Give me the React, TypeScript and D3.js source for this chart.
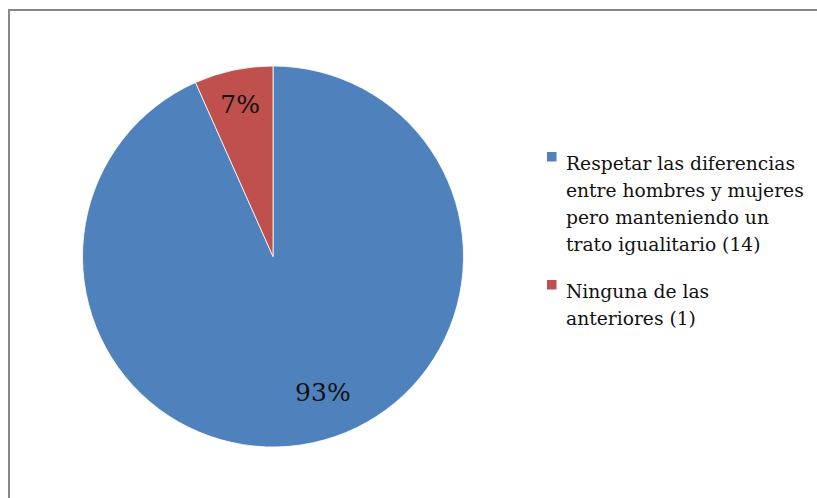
import React, { useEffect, useRef } from "react";
import * as d3 from "d3";

const categories = [
  ["Respetar las diferencias", "entre hombres y mujeres", "pero manteniendo un", "trato igualitario (14)"],
  ["Ninguna de las", "anteriores (1)"],
];
const counts = [14, 1];
const percentLabels = ["93%", "7%"];
const colors = ["#4F81BD", "#C0504D"];

const W = 817;
const H = 498;
const cx = 273;
const cy = 256.5;
const radius = 190.5;
const font = "'DejaVu Serif', serif";

const App = () => {
  const ref = useRef<SVGSVGElement>(null);

  useEffect(() => {
    const svg = d3.select(ref.current);
    svg.selectAll("*").remove();

    // chart frame, right and bottom edges fall outside the picture
    svg
      .append("rect")
      .attr("x", 9)
      .attr("y", 10)
      .attr("width", W + 20)
      .attr("height", H + 20)
      .attr("fill", "white")
      .attr("stroke", "#878787")
      .attr("stroke-width", 2);

    const pie = d3
      .pie<number>()
      .sort(null)
      .value((d) => d);
    const arcs = pie(counts);

    const arc = d3.arc<d3.PieArcDatum<number>>().innerRadius(0).outerRadius(radius);

    const g = svg.append("g").attr("transform", `translate(${cx},${cy})`);

    g.selectAll("path")
      .data(arcs)
      .join("path")
      .attr("d", arc)
      .attr("fill", (d, i) => colors[i])
      .attr("stroke", "white")
      .attr("stroke-width", 0.8);

    // excel-ish label placement inside the slices
    const labelArc = d3
      .arc<d3.PieArcDatum<number>>()
      .innerRadius(radius * 0.78)
      .outerRadius(radius * 0.78);
    const nudge = [
      [19, -10],
      [-2, -7],
    ];

    g.selectAll("text.pct")
      .data(arcs)
      .join("text")
      .attr("class", "pct")
      .attr("x", (d, i) => labelArc.centroid(d)[0] + nudge[i][0])
      .attr("y", (d, i) => labelArc.centroid(d)[1] + nudge[i][1])
      .attr("dy", "0.35em")
      .attr("text-anchor", "middle")
      .attr("font-family", font)
      .attr("font-size", 25)
      .attr("fill", "#111")
      .text((d, i) => percentLabels[i]);

    // legend
    const legendX = 547;
    const lineH = 27.3;
    const tops = [152, 280];
    const legend = svg
      .append("g")
      .selectAll("g")
      .data(categories)
      .join("g")
      .attr("transform", (d, i) => `translate(${legendX},${tops[i]})`);

    legend
      .append("rect")
      .attr("width", 9.5)
      .attr("height", 9.5)
      .attr("fill", (d, i) => colors[i]);

    legend
      .append("text")
      .attr("font-family", font)
      .attr("font-size", 18.7)
      .attr("fill", "#111")
      .selectAll("tspan")
      .data((d) => d)
      .join("tspan")
      .attr("x", 19)
      .attr("y", (d, j) => 17.5 + j * lineH)
      .text((d) => d);
  }, []);

  return (
    <svg
      ref={ref}
      width={W}
      height={H}
      style={{ position: "absolute", left: 0, top: 0, background: "white" }}
    />
  );
};

export default App;
